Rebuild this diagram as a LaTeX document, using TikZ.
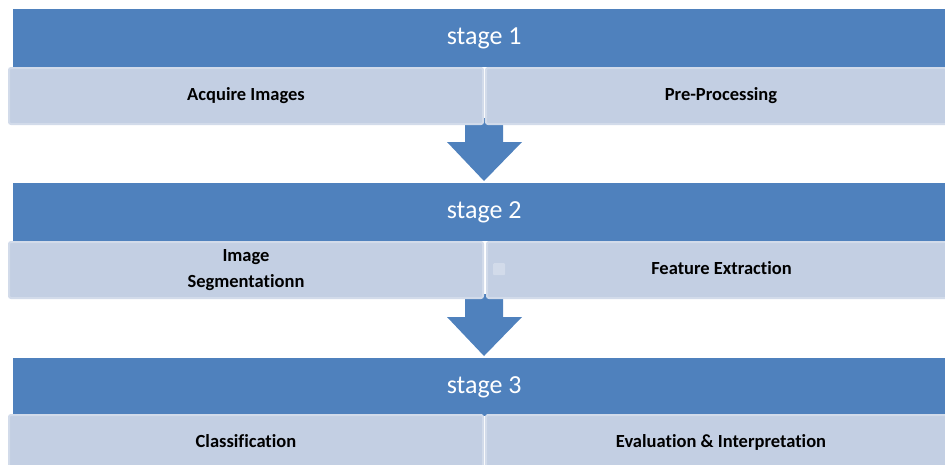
\documentclass[tikz,border=0pt]{standalone}
\usepackage{fontspec}
\setmainfont{Carlito}[Ligatures=NoCommon]
\definecolor{stageblue}{HTML}{4F81BD}
\definecolor{taskfill}{HTML}{C3CFE3}
\definecolor{taskline}{HTML}{D2DBEA}

\begin{document}
\begin{tikzpicture}[x=1pt, y=-1pt,
    header/.style={fill=stageblue, minimum width=942pt, minimum height=58pt, inner sep=0pt, anchor=north west, text=white, font=\fontsize{26}{30}\selectfont},
    task/.style={fill=taskfill, draw=taskline, line width=2pt, rounded corners=2pt, minimum height=56pt, inner sep=0pt, anchor=north west, align=center, font=\bfseries\fontsize{18.5}{26}\selectfont},
    oneline/.style={text height=12.5pt, text depth=3.5pt},
    blockarrow/.style={fill=stageblue}]
    \useasboundingbox (0,0) rectangle (945,464);
    % down arrows between the stages
    \foreach \top/\tip in {118/181, 294/356}
        \fill[blockarrow] (465,\top) -- (503,\top) -- (503,\tip-39) -- (522,\tip-39) -- (484,\tip) -- (447,\tip-39) -- (465,\tip-39) -- cycle;
    \node[header] (hdr1) at (13,9) {stage 1};
    \node[task, oneline, minimum width=474pt] (acq) at (8,67) {Acquire Images};
    \node[task, oneline, minimum width=470pt] (pre) at (485,67) {Pre-Processing};
    \node[header] (hdr2) at (13,183) {stage 2};
    \node[task, minimum width=474pt] (seg) at (8,241) {Image\\Segmentationn};
    \node[task, oneline, minimum width=469pt] (feat) at (486,241) {Feature Extraction};
    \node[fill=taskline, rounded corners=1pt, minimum size=12pt, inner sep=0pt, anchor=north west] (dot) at (493,263) {};
    \node[header] (hdr3) at (13,358) {stage 3};
    \node[task, oneline, minimum width=474pt] (cls) at (8,414) {Classification};
    \node[task, oneline, minimum width=470pt] (eval) at (485,414) {Evaluation \& Interpretation};
\end{tikzpicture}
\end{document}
